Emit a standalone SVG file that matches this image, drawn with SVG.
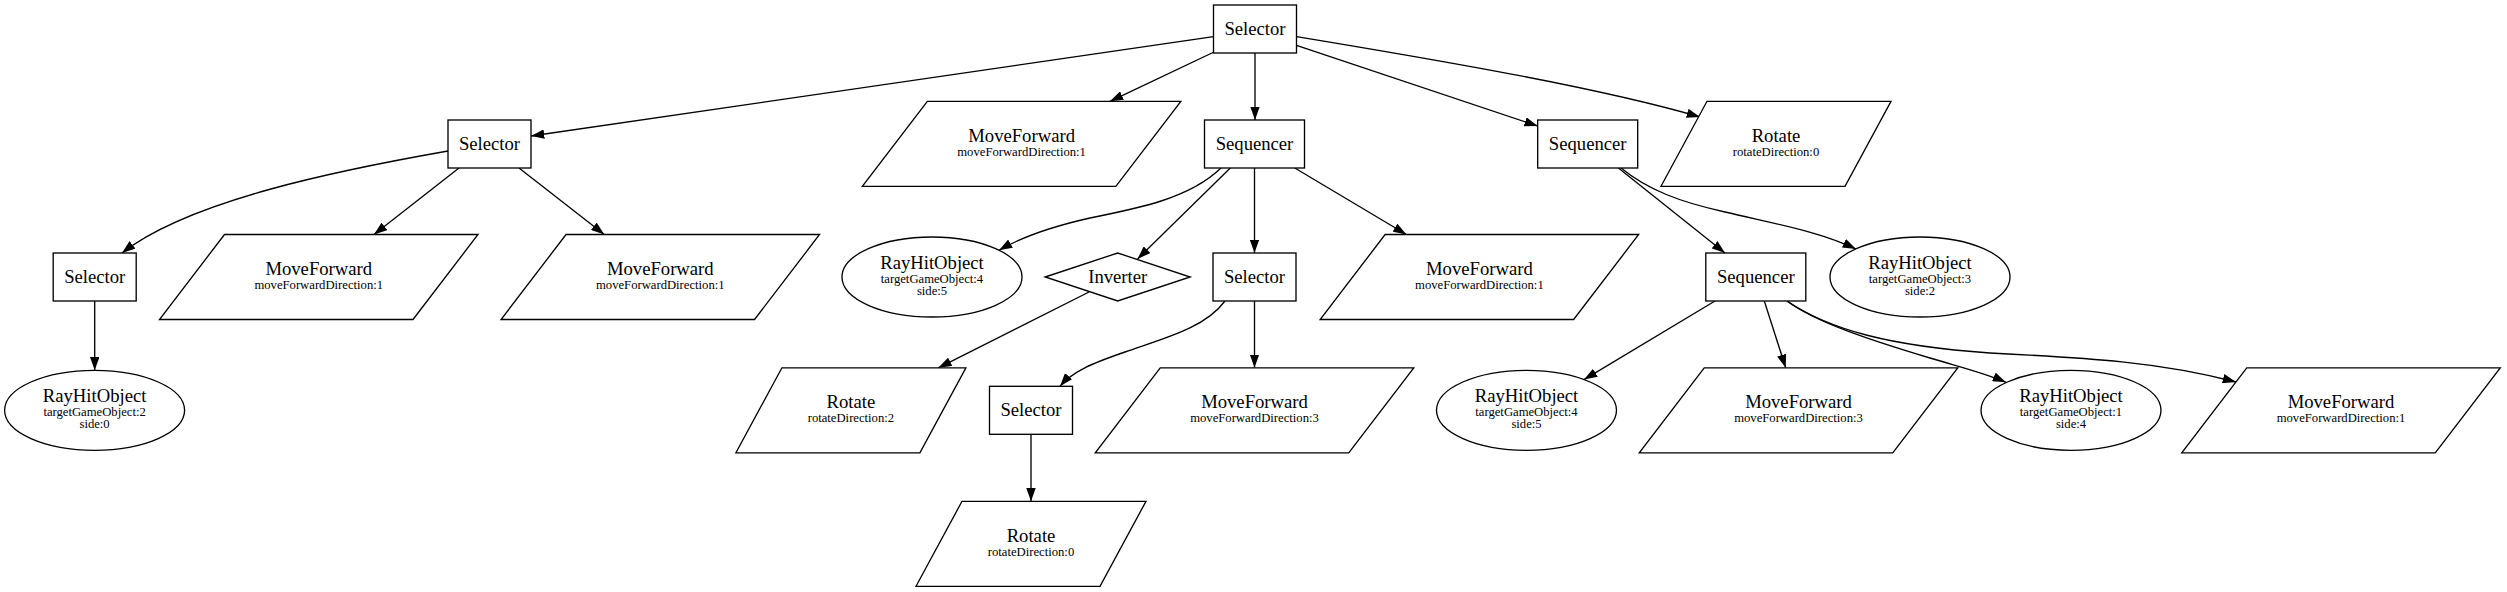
<svg xmlns="http://www.w3.org/2000/svg" width="2507" height="592" viewBox="0 0 2507 592">
<style>
.n{fill:#fff;stroke:#000;stroke-width:1.33}
.t{font-family:"Liberation Serif","Times New Roman",serif;font-size:18.67px;text-anchor:middle;fill:#000}
.s{font-family:"Liberation Serif","Times New Roman",serif;font-size:12.67px;text-anchor:middle;fill:#000}
.e{fill:none;stroke:#000;stroke-width:1.33;marker-end:url(#ah)}
</style>
<defs>
<marker id="ah" markerUnits="userSpaceOnUse" viewBox="0 0 13.3 9.4" refX="13.3" refY="4.7" markerWidth="13.3" markerHeight="9.4" orient="auto">
<path d="M0,0 L13.3,4.7 L0,9.4 z" fill="#000"/>
</marker>
</defs>
<rect width="2507" height="592" fill="#fff"/>
<g id="edges">
<path class="e" d="M1213.5,36.6 L531,136"/>
<path class="e" d="M1214,52 L1110,101.3"/>
<path class="e" d="M1255,53 L1255,120"/>
<path class="e" d="M1296.5,45.3 L1537.7,126"/>
<path class="e" d="M1296.5,36.6 C1450,62 1600,88 1700,117"/>
<path class="e" d="M448,151 C340,170 190,200 122,253"/>
<path class="e" d="M459,168 L374,234.5"/>
<path class="e" d="M519,168 L604.3,234.5"/>
<path class="e" d="M94.7,301 L94.7,370.3"/>
<path class="e" d="M1221,168 C1190,198 1140,208 1090,218 C1050,227 1020,238 999,250.3"/>
<path class="e" d="M1230.3,168 L1137.5,259"/>
<path class="e" d="M1254.5,168 L1254.5,253"/>
<path class="e" d="M1294.8,168 L1406.4,234.5"/>
<path class="e" d="M1089,292 L938.3,367.8"/>
<path class="e" d="M1225,301 C1205,328 1165,338 1125,352 C1090,364 1072,372 1060,386.3"/>
<path class="e" d="M1254.5,301 L1254.5,367.8"/>
<path class="e" d="M1031,434.3 L1031,501.3"/>
<path class="e" d="M1618.4,168 L1725,253"/>
<path class="e" d="M1621,168 C1648,190 1680,202 1725,212 C1785,226 1820,232 1856,249"/>
<path class="e" d="M1715,301 L1584,379.6"/>
<path class="e" d="M1764.3,301 L1785.7,367.8"/>
<path class="e" d="M1787,301 C1815,322 1870,340 1930,358 C1960,367 1985,373 2006,382.3"/>
<path class="e" d="M1787,301 C1830,330 1890,346 1990,353 C2090,358 2160,362 2236,382"/>
</g>
<g id="n0"><rect class="n" x="1213.5" y="5" width="83" height="48"/><text class="t" x="1255" y="34.5">Selector</text></g>
<g id="n1"><rect class="n" x="448" y="120" width="83" height="48"/><text class="t" x="489.5" y="149.5">Selector</text></g>
<g id="n2"><polygon class="n" points="927.35,101.3 1180.85,101.3 1115.85,186.3 862.35,186.3"/><text class="t" x="1021.6" y="142">MoveForward</text><text class="s" x="1021.6" y="156">moveForwardDirection:1</text></g>
<g id="n3"><rect class="n" x="1204.5" y="120" width="100" height="48"/><text class="t" x="1254.5" y="149.5">Sequencer</text></g>
<g id="n4"><rect class="n" x="1537.7" y="120" width="100" height="48"/><text class="t" x="1587.7" y="149.5">Sequencer</text></g>
<g id="n5"><polygon class="n" points="1707,101.3 1891,101.3 1845,186.3 1661,186.3"/><text class="t" x="1776" y="142">Rotate</text><text class="s" x="1776" y="156">rotateDirection:0</text></g>
<g id="n6"><rect class="n" x="53.2" y="253" width="83" height="48"/><text class="t" x="94.7" y="282.5">Selector</text></g>
<g id="n7"><polygon class="n" points="224.5,234.5 478,234.5 413,319.5 159.5,319.5"/><text class="t" x="318.75" y="275">MoveForward</text><text class="s" x="318.75" y="289">moveForwardDirection:1</text></g>
<g id="n8"><polygon class="n" points="566.05,234.5 819.55,234.5 754.55,319.5 501.05,319.5"/><text class="t" x="660.3" y="275">MoveForward</text><text class="s" x="660.3" y="289">moveForwardDirection:1</text></g>
<g id="n9"><ellipse class="n" cx="932" cy="277" rx="90" ry="40"/><text class="t" x="932" y="269">RayHitObject</text><text class="s" x="932" y="283">targetGameObject:4</text><text class="s" x="932" y="295">side:5</text></g>
<g id="n10"><polygon class="n" points="1045.2,277 1117.7,253 1190.2,277 1117.7,301"/><text class="t" x="1117.7" y="282.5">Inverter</text></g>
<g id="n11"><rect class="n" x="1213" y="253" width="83" height="48"/><text class="t" x="1254.5" y="282.5">Selector</text></g>
<g id="n12"><polygon class="n" points="1385.15,234.5 1638.65,234.5 1573.65,319.5 1320.15,319.5"/><text class="t" x="1479.4" y="275">MoveForward</text><text class="s" x="1479.4" y="289">moveForwardDirection:1</text></g>
<g id="n13"><rect class="n" x="1705.8" y="253" width="100" height="48"/><text class="t" x="1755.8" y="282.5">Sequencer</text></g>
<g id="n14"><ellipse class="n" cx="1920" cy="277" rx="90" ry="40"/><text class="t" x="1920" y="269">RayHitObject</text><text class="s" x="1920" y="283">targetGameObject:3</text><text class="s" x="1920" y="295">side:2</text></g>
<g id="n15"><ellipse class="n" cx="94.6" cy="410.3" rx="90" ry="40"/><text class="t" x="94.6" y="402.3">RayHitObject</text><text class="s" x="94.6" y="416.3">targetGameObject:2</text><text class="s" x="94.6" y="428.3">side:0</text></g>
<g id="n16"><polygon class="n" points="781.9,367.8 965.9,367.8 919.9,452.8 735.9,452.8"/><text class="t" x="850.9" y="408.3">Rotate</text><text class="s" x="850.9" y="422.3">rotateDirection:2</text></g>
<g id="n17"><rect class="n" x="989.5" y="386.3" width="83" height="48"/><text class="t" x="1031" y="415.8">Selector</text></g>
<g id="n18"><polygon class="n" points="1160.25,367.8 1413.75,367.8 1348.75,452.8 1095.25,452.8"/><text class="t" x="1254.5" y="408.3">MoveForward</text><text class="s" x="1254.5" y="422.3">moveForwardDirection:3</text></g>
<g id="n19"><ellipse class="n" cx="1526.5" cy="410.3" rx="90" ry="40"/><text class="t" x="1526.5" y="402.3">RayHitObject</text><text class="s" x="1526.5" y="416.3">targetGameObject:4</text><text class="s" x="1526.5" y="428.3">side:5</text></g>
<g id="n20"><polygon class="n" points="1704.25,367.8 1957.75,367.8 1892.75,452.8 1639.25,452.8"/><text class="t" x="1798.5" y="408.3">MoveForward</text><text class="s" x="1798.5" y="422.3">moveForwardDirection:3</text></g>
<g id="n21"><ellipse class="n" cx="2071" cy="410.3" rx="90" ry="40"/><text class="t" x="2071" y="402.3">RayHitObject</text><text class="s" x="2071" y="416.3">targetGameObject:1</text><text class="s" x="2071" y="428.3">side:4</text></g>
<g id="n22"><polygon class="n" points="2246.75,367.8 2500.25,367.8 2435.25,452.8 2181.75,452.8"/><text class="t" x="2341" y="408.3">MoveForward</text><text class="s" x="2341" y="422.3">moveForwardDirection:1</text></g>
<g id="n23"><polygon class="n" points="962,501.3 1146,501.3 1100,586.3 916,586.3"/><text class="t" x="1031" y="541.8">Rotate</text><text class="s" x="1031" y="555.8">rotateDirection:0</text></g>
</svg>
